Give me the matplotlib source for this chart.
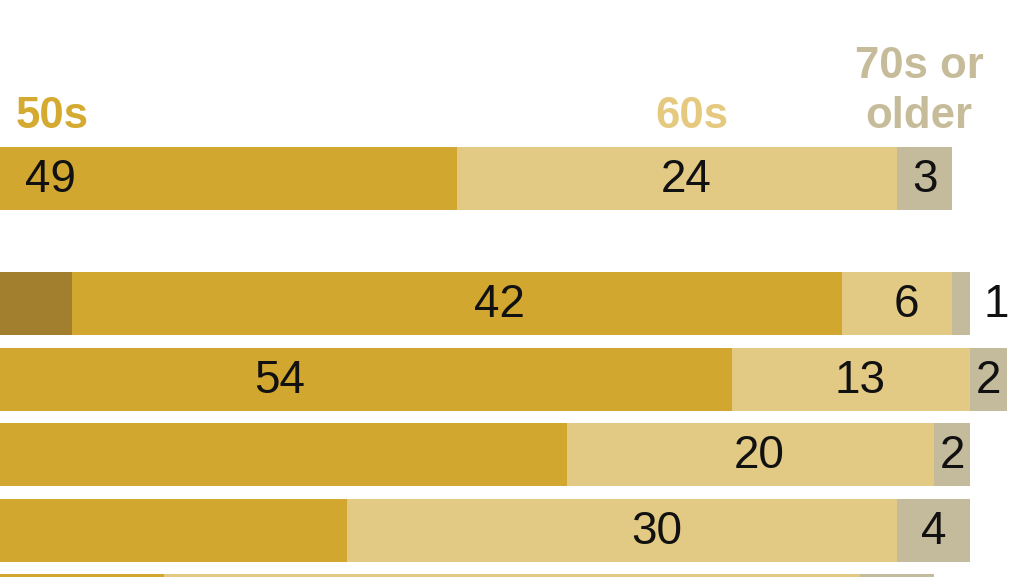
import matplotlib
matplotlib.use('agg')
import matplotlib.pyplot as plt

# Data (share by age group, %); leftmost groups sit outside the visible crop
categories = ['Under 40', '40s', '50s', '60s', '70s or older']
under40 = [5, 11, 7, 3, 6, 10]
forties = [16, 38, 24, 3, 10, 14]
fifties = [49, 42, 54, 70, 48, 30]
sixties = [24, 6, 13, 20, 30, 38]
seventies = [3, 1, 2, 2, 4, 4]

colors = ['#7d6226', '#a17f2e', '#d2a72f', '#e2c984', '#c4ba9c']
label_nudge = [0, 0, 2.3, 0.5, 0]

series = [under40, forties, fifties, sixties, seventies]

XMIN, XMAX = 45.06, 100.92
YTOP, YBOT = -2.364, 5.278

fig = plt.figure(figsize=(10.24, 5.77), dpi=100)
ax = fig.add_axes([0, 0, 1, 1])
ax.set_xlim(XMIN, XMAX)
ax.set_ylim(YBOT, YTOP)
ax.axis('off')

# first row is separated from the rest by a gap
ypos = [i if i == 0 else i + 0.66 for i in range(len(fifties))]

left = [0] * len(fifties)
for k, vals in enumerate(series):
    ax.barh(ypos, vals, left=left, height=0.835, color=colors[k],
            edgecolor='none')
    for i, v in enumerate(vals):
        if k >= 2:
            if v < 2:
                x = left[i] + v + 1.4
            else:
                x = left[i] + v / 2 + label_nudge[k]
                if k == 3 and i == 4:
                    x += 1.4
            # only label what falls inside the cropped window
            if x - 1.6 > XMIN and ypos[i] + 0.3 < YBOT:
                ax.text(x, ypos[i] + 0.02, str(v), ha='center', va='center',
                        fontsize=33, family='Liberation Sans',
                        color='#111111')
    left = [a + b for a, b in zip(left, vals)]

# Column headers
hdr = dict(fontsize=31.5, family='Liberation Sans', fontweight='bold',
           va='baseline')
ax.text(45.9, -0.669, '50s', color='#d4aa30', ha='left', **hdr)
ax.text(82.8, -0.669, '60s', color='#e4c97f', ha='center', **hdr)
ax.text(95.2, -1.33, '70s or', color='#c6bc9a', ha='center', **hdr)
ax.text(95.2, -0.669, 'older', color='#c6bc9a', ha='center', **hdr)

plt.savefig('out.png', dpi=100)
